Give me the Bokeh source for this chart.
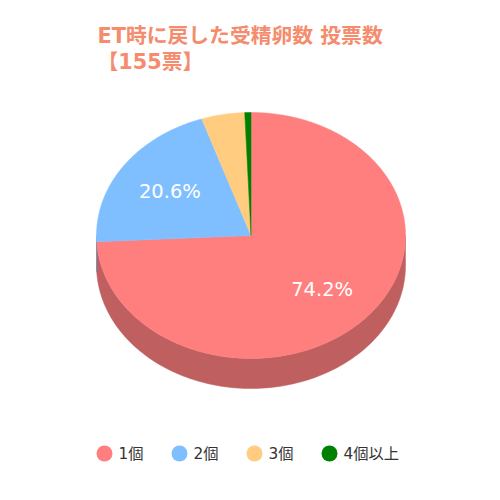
import numpy as np
from bokeh.plotting import figure
from bokeh.models import Range1d
from bokeh.core.properties import value
from bokeh.embed import file_html
from bokeh.resources import INLINE

# ---- data ----
categories = ["1個", "2個", "3個", "4個以上"]
votes = [115, 32, 7, 1]
colors = ["#FF7F7F", "#7FBFFF", "#FFCC80", "#008000"]
title_lines = ["ET時に戻した受精卵数 投票数", "【155票】"]

# ---- layout constants (page pixel units) ----
CX, CY, RX, RY, DEPTH = 250.5, 235.0, 154.5, 123.0, 30.0
LABEL_F = 0.635
FONT_MIX = "DejaVu Sans, Noto Sans CJK JP"


def darken(hex_color, k=0.75):
    h = hex_color.lstrip("#")
    r, g, b = (int(h[i:i + 2], 16) for i in (0, 2, 4))
    return "#%02x%02x%02x" % (int(r * k), int(g * k), int(b * k))


def pt(theta):
    return CX + RX * np.sin(theta), CY - RY * np.cos(theta)


p = figure(width=484, height=484, x_range=Range1d(0, 484), y_range=Range1d(484, 0),
           output_backend="svg", toolbar_location=None, min_border=0)
p.axis.visible = False
p.grid.visible = False
p.outline_line_color = None
p.background_fill_color = "white"
p.border_fill_color = "white"

total = float(sum(votes))
fracs = np.array(votes) / total
ends = np.cumsum(fracs) * 2 * np.pi
starts = ends - fracs * 2 * np.pi

# side faces (front, visible half)
side_xs, side_ys, side_c = [], [], []
for a, b, c in zip(starts, ends, colors):
    lo, hi = max(a, np.pi / 2), min(b, 3 * np.pi / 2)
    if hi <= lo:
        continue
    t = np.linspace(lo, hi, 120)
    x, y = pt(t)
    side_xs.append(list(x) + list(x[::-1]))
    side_ys.append(list(y) + list((y + DEPTH)[::-1]))
    side_c.append(darken(c))
p.patches(side_xs, side_ys, fill_color=side_c, line_color=side_c, line_width=0.5)

# top faces
top_xs, top_ys = [], []
for a, b in zip(starts, ends):
    t = np.linspace(a, b, max(int((b - a) * 80), 8))
    x, y = pt(t)
    top_xs.append([CX] + list(x))
    top_ys.append([CY] + list(y))
p.patches(top_xs, top_ys, fill_color=colors, line_color=colors, line_width=0.5)

# data labels
lx, ly, lt = [], [], []
for a, b, f in zip(starts, ends, fracs):
    if f < 0.1:
        continue
    m = (a + b) / 2
    lx.append(CX + LABEL_F * RX * np.sin(m))
    ly.append(CY - LABEL_F * RY * np.cos(m))
    lt.append("%.1f%%" % (f * 100))
p.text(lx, ly, text=lt, text_color="white", text_font=value("DejaVu Sans"),
       text_font_size="19.5px", text_align="center", text_baseline="middle")

# title
p.text([97, 97], [35, 61], text=title_lines, text_color="#F58C6E",
       text_font=value(FONT_MIX), text_font_size="20.8px", text_font_style="bold",
       text_align="left", text_baseline="middle")

# legend
LX0, LDX, LY = 104, 75, 453
lgx = [LX0 + i * LDX for i in range(len(categories))]
p.scatter(lgx, [LY] * len(categories), size=16, fill_color=colors, line_color=None)
p.text([x + 14 for x in lgx], [LY] * len(categories), text=categories,
       text_color="#333333", text_font=value(FONT_MIX), text_font_size="15.3px",
       text_align="left", text_baseline="middle")

open("out.html", "w").write(file_html(p, INLINE))
